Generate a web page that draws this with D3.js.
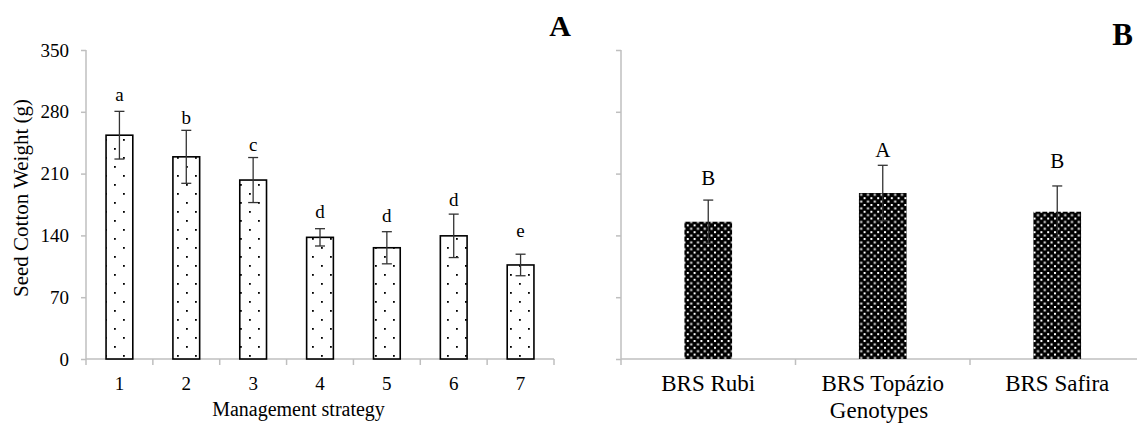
<!DOCTYPE html>
<html>
<head>
<meta charset="utf-8">
<script src="https://cdn.jsdelivr.net/npm/d3@7"></script>
<style>
  html, body { margin: 0; padding: 0; background: #fff; }
  svg { display: block; font-family: "Liberation Serif", "Times New Roman", serif; }
</style>
</head>
<body>
<svg id="chart" width="1137" height="423"></svg>
<script>
// ---- Data ----
const strategies = ["1", "2", "3", "4", "5", "6", "7"];
const strategyMeans = [253.5, 229, 202.7, 137.8, 126, 139.5, 106.5];
const strategyErrors = [27, 30, 25.5, 9.8, 18.2, 24.6, 12.2];
const strategyLetters = ["a", "b", "c", "d", "d", "d", "e"];
const strategyLetterHeights = [292, 266, 235.6, 160, 155.5, 173, 138.5];

const genotypes = ["BRS Rubi", "BRS Topázio", "BRS Safira"];
const genotypeMeans = [155.5, 188, 166.8];
const genotypeErrors = [24.5, 31.4, 29.2];
const genotypeLetters = ["B", "A", "B"];
const genotypeLetterHeights = [197, 228.4, 216];

const yTicks = [0, 70, 140, 210, 280, 350];

// ---- Setup ----
const svg = d3.select("#chart");
const axisGray = "#bfbfbf";
const errColor = "#333333";

const defs = svg.append("defs");
// dotted pattern (left)
const pDots = defs.append("pattern").attr("id", "dots")
  .attr("patternUnits", "userSpaceOnUse").attr("width", 18).attr("height", 18)
  .attr("x", 6).attr("y", 4);
pDots.append("rect").attr("width", 18).attr("height", 18).attr("fill", "#fff");
pDots.append("rect").attr("x", 0).attr("y", 0).attr("width", 1.8).attr("height", 1.8).attr("fill", "#000");
pDots.append("rect").attr("x", 9).attr("y", 9).attr("width", 1.8).attr("height", 1.8).attr("fill", "#000");
// dense dotted-diamond pattern (right)
const pDia = defs.append("pattern").attr("id", "diamond")
  .attr("patternUnits", "userSpaceOnUse").attr("width", 6.8).attr("height", 6.8);
pDia.append("rect").attr("width", 6.8).attr("height", 6.8).attr("fill", "#000");
pDia.append("rect").attr("x", 0).attr("y", 0).attr("width", 2).attr("height", 2).attr("fill", "#fff");
pDia.append("rect").attr("x", 3.4).attr("y", 3.4).attr("width", 2).attr("height", 2).attr("fill", "#fff");

const y = d3.scaleLinear().domain([0, 350]).range([359, 50]);

function drawYAxis(x0, withLabels) {
  const g = svg.append("g").attr("transform", `translate(${x0},0)`)
    .call(d3.axisLeft(y).tickValues(yTicks).tickSize(5).tickPadding(12)
      .tickFormat(withLabels ? d3.format("d") : () => ""));
  g.select(".domain").attr("stroke", axisGray).attr("stroke-width", 1.5).attr("d", `M0,${y(350)}V${y(0)}`);
  g.selectAll(".tick line").attr("stroke", axisGray).attr("stroke-width", 1.5);
  g.selectAll(".tick text").attr("font-size", 19).attr("fill", "#000")
    .attr("font-family", "Liberation Serif");
  return g;
}

function drawXAxis(xs, cats, fontSize, labelY, xEnd) {
  const g = svg.append("g");
  const r = xs.range();
  g.append("line").attr("x1", r[0]).attr("x2", Math.min(r[1], xEnd))
    .attr("y1", y(0)).attr("y2", y(0)).attr("stroke", axisGray).attr("stroke-width", 1.5);
  const bounds = cats.map(c => xs(c)).concat([xs(cats[cats.length - 1]) + xs.bandwidth()]);
  g.selectAll("line.tk").data(bounds).join("line").attr("class", "tk")
    .attr("x1", d => d).attr("x2", d => d).attr("y1", y(0)).attr("y2", y(0) + 6)
    .attr("stroke", axisGray).attr("stroke-width", 1.5);
  g.selectAll("text").data(cats).join("text")
    .attr("x", d => xs(d) + xs.bandwidth() / 2).attr("y", labelY)
    .attr("text-anchor", "middle").attr("font-size", fontSize).text(d => d);
}

function drawBars(xs, cats, means, errs, letters, letterH, frac, fill, stroke, letterSize) {
  const bw = xs.bandwidth() * frac;
  const g = svg.append("g");
  g.selectAll("rect").data(cats).join("rect")
    .attr("x", d => xs(d) + (xs.bandwidth() - bw) / 2)
    .attr("y", (d, i) => y(means[i]))
    .attr("width", bw)
    .attr("height", (d, i) => y(0) - y(means[i]))
    .attr("fill", fill)
    .attr("stroke", stroke ? "#000" : "none")
    .attr("stroke-width", 1.6);
  const eg = svg.append("g").attr("stroke", errColor).attr("stroke-width", 1.3);
  cats.forEach((c, i) => {
    const cx = xs(c) + xs.bandwidth() / 2;
    const t = y(means[i] + errs[i]), b = y(means[i] - errs[i]);
    eg.append("line").attr("x1", cx).attr("x2", cx).attr("y1", t).attr("y2", b);
    eg.append("line").attr("x1", cx - 5).attr("x2", cx + 5).attr("y1", t).attr("y2", t);
    eg.append("line").attr("x1", cx - 5).attr("x2", cx + 5).attr("y1", b).attr("y2", b);
  });
  svg.append("g").selectAll("text").data(cats).join("text")
    .attr("x", d => xs(d) + xs.bandwidth() / 2)
    .attr("y", (d, i) => y(letterH[i]))
    .attr("text-anchor", "middle").attr("font-size", letterSize)
    .text((d, i) => letters[i]);
}

// ---- Left panel ----
const xL = d3.scaleBand().domain(strategies).range([86, 554]).padding(0);
drawYAxis(86, true);
drawXAxis(xL, strategies, 19, 389.5, 1137);
drawBars(xL, strategies, strategyMeans, strategyErrors, strategyLetters, strategyLetterHeights,
  0.40, "url(#dots)", true, 19);

svg.append("text").attr("transform", "translate(27.5,198) rotate(-90)")
  .attr("text-anchor", "middle").attr("font-size", 21).text("Seed Cotton Weight (g)");
svg.append("text").attr("x", 298.5).attr("y", 416).attr("text-anchor", "middle")
  .attr("font-size", 20).text("Management strategy");
svg.append("text").attr("x", 560).attr("y", 36).attr("text-anchor", "middle")
  .attr("font-size", 30).attr("font-weight", "bold").text("A");

// ---- Right panel ----
const xR = d3.scaleBand().domain(genotypes).range([621, 1144.5]).padding(0);
drawYAxis(621, false);
drawXAxis(xR, genotypes, 23, 390.5, 1137);
drawBars(xR, genotypes, genotypeMeans, genotypeErrors, genotypeLetters, genotypeLetterHeights,
  0.273, "url(#diamond)", false, 21);

svg.append("text").attr("x", 879).attr("y", 417.5).attr("text-anchor", "middle")
  .attr("font-size", 23).text("Genotypes");
svg.append("text").attr("x", 1133).attr("y", 45).attr("text-anchor", "end")
  .attr("font-size", 31).attr("font-weight", "bold").text("B");
</script>
</body>
</html>
